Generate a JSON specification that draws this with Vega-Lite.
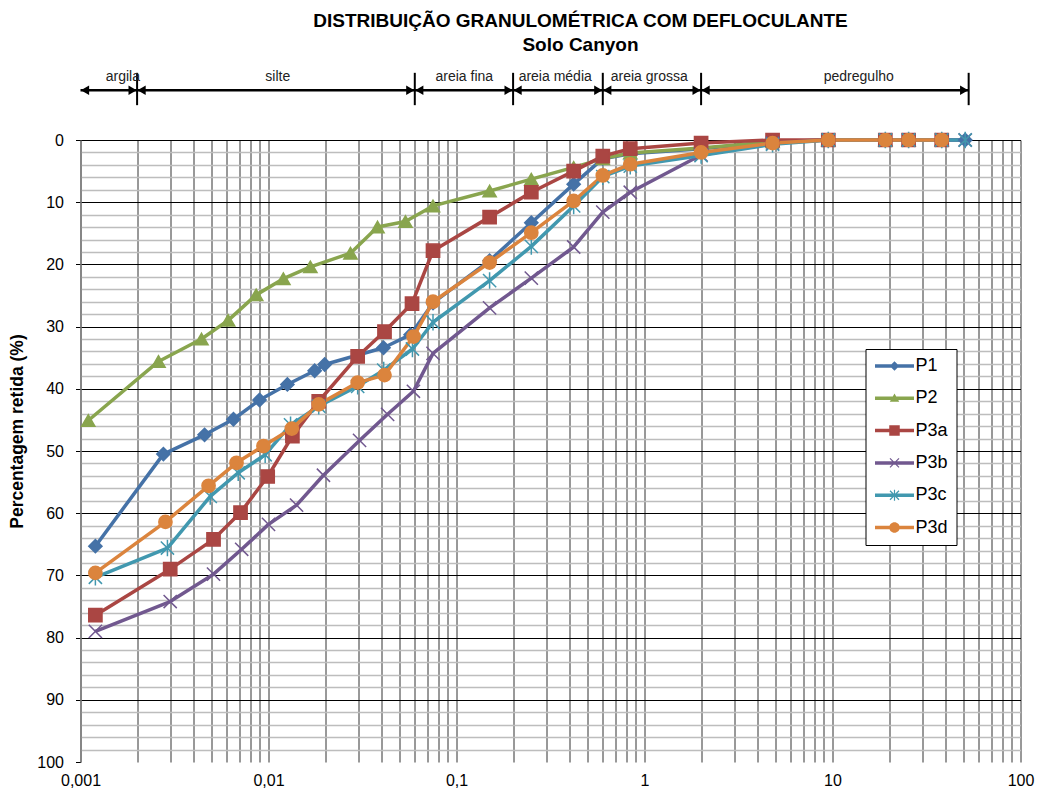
{
  "$schema": "https://vega.github.io/schema/vega-lite/v6.json",
  "width": 940,
  "height": 622,
  "autosize": {"type": "none"},
  "padding": {"left": 80.5, "top": 140, "right": 20.5, "bottom": 34},
  "background": "#ffffff",
  "config": {
    "font": "Liberation Sans",
    "view": {"stroke": null}
  },
  "title": {
    "text": "DISTRIBUIÇÃO GRANULOMÉTRICA COM DEFLOCULANTE",
    "subtitle": "Solo Canyon",
    "anchor": "middle",
    "frame": "group",
    "dx": 30,
    "offset": 15,
    "fontSize": 19,
    "fontWeight": "bold",
    "color": "#000000",
    "subtitleFontSize": 19,
    "subtitleFontWeight": "bold",
    "subtitleColor": "#000000",
    "subtitlePadding": 5
  },
  "datasets": {
    "series": [
      {"serie": "P1", "diametro": 0.0012, "retida": 65.3},
      {"serie": "P1", "diametro": 0.00276, "retida": 50.5},
      {"serie": "P1", "diametro": 0.00457, "retida": 47.4},
      {"serie": "P1", "diametro": 0.00651, "retida": 44.9},
      {"serie": "P1", "diametro": 0.00896, "retida": 41.8},
      {"serie": "P1", "diametro": 0.0126, "retida": 39.3},
      {"serie": "P1", "diametro": 0.0176, "retida": 37.1},
      {"serie": "P1", "diametro": 0.0199, "retida": 36.1},
      {"serie": "P1", "diametro": 0.0409, "retida": 33.4},
      {"serie": "P1", "diametro": 0.057, "retida": 31.3},
      {"serie": "P1", "diametro": 0.075, "retida": 26.2},
      {"serie": "P1", "diametro": 0.15, "retida": 19.4},
      {"serie": "P1", "diametro": 0.25, "retida": 13.3},
      {"serie": "P1", "diametro": 0.42, "retida": 7.1},
      {"serie": "P1", "diametro": 0.6, "retida": 3.0},
      {"serie": "P1", "diametro": 0.84, "retida": 2.2},
      {"serie": "P1", "diametro": 2.0, "retida": 1.4},
      {"serie": "P1", "diametro": 4.8, "retida": 0.3},
      {"serie": "P1", "diametro": 9.5, "retida": 0},
      {"serie": "P1", "diametro": 19.1, "retida": 0},
      {"serie": "P1", "diametro": 25.4, "retida": 0},
      {"serie": "P1", "diametro": 38.1, "retida": 0},
      {"serie": "P1", "diametro": 50.8, "retida": 0},

      {"serie": "P2", "diametro": 0.0011, "retida": 45.1},
      {"serie": "P2", "diametro": 0.0026, "retida": 35.6},
      {"serie": "P2", "diametro": 0.0044, "retida": 32.0},
      {"serie": "P2", "diametro": 0.0061, "retida": 29.0},
      {"serie": "P2", "diametro": 0.0086, "retida": 24.9},
      {"serie": "P2", "diametro": 0.012, "retida": 22.3},
      {"serie": "P2", "diametro": 0.0167, "retida": 20.4},
      {"serie": "P2", "diametro": 0.0273, "retida": 18.2},
      {"serie": "P2", "diametro": 0.038, "retida": 14.0},
      {"serie": "P2", "diametro": 0.0535, "retida": 13.1},
      {"serie": "P2", "diametro": 0.075, "retida": 10.6},
      {"serie": "P2", "diametro": 0.15, "retida": 8.2},
      {"serie": "P2", "diametro": 0.25, "retida": 6.3},
      {"serie": "P2", "diametro": 0.42, "retida": 4.4},
      {"serie": "P2", "diametro": 0.6, "retida": 3.0},
      {"serie": "P2", "diametro": 0.84, "retida": 2.1},
      {"serie": "P2", "diametro": 2.0, "retida": 1.3},
      {"serie": "P2", "diametro": 4.8, "retida": 0.3},
      {"serie": "P2", "diametro": 9.5, "retida": 0},
      {"serie": "P2", "diametro": 19.1, "retida": 0},
      {"serie": "P2", "diametro": 25.4, "retida": 0},
      {"serie": "P2", "diametro": 38.1, "retida": 0},

      {"serie": "P3a", "diametro": 0.0012, "retida": 76.4},
      {"serie": "P3a", "diametro": 0.003, "retida": 69.0},
      {"serie": "P3a", "diametro": 0.0051, "retida": 64.2},
      {"serie": "P3a", "diametro": 0.0071, "retida": 59.9},
      {"serie": "P3a", "diametro": 0.0099, "retida": 54.1},
      {"serie": "P3a", "diametro": 0.0134, "retida": 47.6},
      {"serie": "P3a", "diametro": 0.0185, "retida": 42.0},
      {"serie": "P3a", "diametro": 0.0298, "retida": 34.8},
      {"serie": "P3a", "diametro": 0.0414, "retida": 30.8},
      {"serie": "P3a", "diametro": 0.058, "retida": 26.3},
      {"serie": "P3a", "diametro": 0.075, "retida": 17.8},
      {"serie": "P3a", "diametro": 0.15, "retida": 12.4},
      {"serie": "P3a", "diametro": 0.25, "retida": 8.4},
      {"serie": "P3a", "diametro": 0.42, "retida": 5.0},
      {"serie": "P3a", "diametro": 0.6, "retida": 2.6},
      {"serie": "P3a", "diametro": 0.84, "retida": 1.4},
      {"serie": "P3a", "diametro": 2.0, "retida": 0.5},
      {"serie": "P3a", "diametro": 4.8, "retida": 0},
      {"serie": "P3a", "diametro": 9.5, "retida": 0},
      {"serie": "P3a", "diametro": 19.1, "retida": 0},
      {"serie": "P3a", "diametro": 25.4, "retida": 0},
      {"serie": "P3a", "diametro": 38.1, "retida": 0},

      {"serie": "P3b", "diametro": 0.0012, "retida": 79.0},
      {"serie": "P3b", "diametro": 0.003, "retida": 74.2},
      {"serie": "P3b", "diametro": 0.0051, "retida": 69.8},
      {"serie": "P3b", "diametro": 0.0072, "retida": 65.8},
      {"serie": "P3b", "diametro": 0.01, "retida": 61.8},
      {"serie": "P3b", "diametro": 0.0141, "retida": 58.7},
      {"serie": "P3b", "diametro": 0.0196, "retida": 53.9},
      {"serie": "P3b", "diametro": 0.0305, "retida": 48.3},
      {"serie": "P3b", "diametro": 0.043, "retida": 44.1},
      {"serie": "P3b", "diametro": 0.059, "retida": 40.4},
      {"serie": "P3b", "diametro": 0.075, "retida": 34.3},
      {"serie": "P3b", "diametro": 0.15, "retida": 27.0},
      {"serie": "P3b", "diametro": 0.25, "retida": 22.2},
      {"serie": "P3b", "diametro": 0.42, "retida": 17.2},
      {"serie": "P3b", "diametro": 0.6, "retida": 11.6},
      {"serie": "P3b", "diametro": 0.84, "retida": 8.4},
      {"serie": "P3b", "diametro": 2.0, "retida": 2.4},
      {"serie": "P3b", "diametro": 4.8, "retida": 0.5},
      {"serie": "P3b", "diametro": 9.5, "retida": 0},
      {"serie": "P3b", "diametro": 19.1, "retida": 0},
      {"serie": "P3b", "diametro": 25.4, "retida": 0},
      {"serie": "P3b", "diametro": 38.1, "retida": 0},
      {"serie": "P3b", "diametro": 50.8, "retida": 0},

      {"serie": "P3c", "diametro": 0.0012, "retida": 70.3},
      {"serie": "P3c", "diametro": 0.0029, "retida": 65.6},
      {"serie": "P3c", "diametro": 0.0049, "retida": 57.3},
      {"serie": "P3c", "diametro": 0.0069, "retida": 53.5},
      {"serie": "P3c", "diametro": 0.0096, "retida": 50.6},
      {"serie": "P3c", "diametro": 0.0131, "retida": 45.8},
      {"serie": "P3c", "diametro": 0.0185, "retida": 42.8},
      {"serie": "P3c", "diametro": 0.0298, "retida": 39.6},
      {"serie": "P3c", "diametro": 0.041, "retida": 37.0},
      {"serie": "P3c", "diametro": 0.0583, "retida": 33.6},
      {"serie": "P3c", "diametro": 0.075, "retida": 29.3},
      {"serie": "P3c", "diametro": 0.15, "retida": 22.6},
      {"serie": "P3c", "diametro": 0.25, "retida": 17.1},
      {"serie": "P3c", "diametro": 0.42, "retida": 10.6},
      {"serie": "P3c", "diametro": 0.6, "retida": 5.9},
      {"serie": "P3c", "diametro": 0.84, "retida": 4.2},
      {"serie": "P3c", "diametro": 2.0, "retida": 2.5},
      {"serie": "P3c", "diametro": 4.8, "retida": 0.7},
      {"serie": "P3c", "diametro": 9.5, "retida": 0},
      {"serie": "P3c", "diametro": 19.1, "retida": 0},
      {"serie": "P3c", "diametro": 25.4, "retida": 0},
      {"serie": "P3c", "diametro": 38.1, "retida": 0},
      {"serie": "P3c", "diametro": 50.8, "retida": 0},

      {"serie": "P3d", "diametro": 0.0012, "retida": 69.6},
      {"serie": "P3d", "diametro": 0.00283, "retida": 61.4},
      {"serie": "P3d", "diametro": 0.0048, "retida": 55.6},
      {"serie": "P3d", "diametro": 0.00676, "retida": 51.9},
      {"serie": "P3d", "diametro": 0.0094, "retida": 49.2},
      {"serie": "P3d", "diametro": 0.0133, "retida": 46.4},
      {"serie": "P3d", "diametro": 0.0185, "retida": 42.5},
      {"serie": "P3d", "diametro": 0.0298, "retida": 39.0},
      {"serie": "P3d", "diametro": 0.0414, "retida": 37.8},
      {"serie": "P3d", "diametro": 0.0591, "retida": 31.6},
      {"serie": "P3d", "diametro": 0.075, "retida": 26.0},
      {"serie": "P3d", "diametro": 0.15, "retida": 19.7},
      {"serie": "P3d", "diametro": 0.25, "retida": 14.9},
      {"serie": "P3d", "diametro": 0.42, "retida": 9.8},
      {"serie": "P3d", "diametro": 0.6, "retida": 5.7},
      {"serie": "P3d", "diametro": 0.84, "retida": 3.9},
      {"serie": "P3d", "diametro": 2.0, "retida": 2.0},
      {"serie": "P3d", "diametro": 4.8, "retida": 0.5},
      {"serie": "P3d", "diametro": 9.5, "retida": 0},
      {"serie": "P3d", "diametro": 19.1, "retida": 0},
      {"serie": "P3d", "diametro": 25.4, "retida": 0},
      {"serie": "P3d", "diametro": 38.1, "retida": 0}
    ],
    "faixas": [
      {"zona": "argila", "x0": 0.001, "x1": 0.002, "xt": 0.00168},
      {"zona": "silte", "x0": 0.002, "x1": 0.06, "xt": 0.0112},
      {"zona": "areia fina", "x0": 0.06, "x1": 0.2, "xt": 0.11},
      {"zona": "areia média", "x0": 0.2, "x1": 0.6, "xt": 0.335},
      {"zona": "areia grossa", "x0": 0.6, "x1": 2, "xt": 1.06},
      {"zona": "pedregulho", "x0": 2, "x1": 53, "xt": 13.8}
    ]
  },
  "layer": [
    {
      "data": {"name": "series"},
      "mark": {"type": "point", "filled": true, "size": 1, "opacity": 0, "strokeWidth": 0},
      "encoding": {
        "x": {"field": "diametro", "type": "quantitative"},
        "y": {"field": "retida", "type": "quantitative"},
        "color": {
          "field": "serie",
          "type": "nominal",
          "scale": {
            "domain": ["P1", "P2", "P3a", "P3b", "P3c", "P3d"],
            "range": ["#4572A7", "#89A54E", "#AA4643", "#71588F", "#4198AF", "#DB843D"]
          },
          "legend": {
            "title": null,
            "orient": "none",
            "legendX": 785,
            "legendY": 209,
            "direction": "vertical",
            "padding": 8,
            "strokeColor": "#000000",
            "fillColor": "#ffffff",
            "cornerRadius": 0,
            "labelFontSize": 18,
            "labelColor": "#000000",
            "symbolSize": 100,
            "symbolStrokeWidth": 0,
            "symbolOpacity": 1,
            "symbolOffset": 12,
            "labelOffset": 12,
            "rowPadding": 14.3
          }
        },
        "shape": {
          "field": "serie",
          "type": "nominal",
          "scale": {
            "domain": ["P1", "P2", "P3a", "P3b", "P3c", "P3d"],
            "range": [
              "M-3.9,-0.35H3.9V0.35H-3.9ZM0,-0.95L0.95,0L0,0.95L-0.95,0Z",
              "M-3.9,-0.35H3.9V0.35H-3.9ZM0,-0.95L0.95,0.7L-0.95,0.7Z",
              "M-3.9,-0.35H3.9V0.35H-3.9ZM-1.05,-1.05H1.05V1.05H-1.05Z",
              "M-3.9,-0.35H3.9V0.35H-3.9ZM-0.815,-0.985L0.985,0.815L0.815,0.985L-0.985,-0.815ZM-0.985,0.815L0.815,-0.985L0.985,-0.815L-0.815,0.985Z",
              "M-3.9,-0.35H3.9V0.35H-3.9ZM-0.815,-0.985L0.985,0.815L0.815,0.985L-0.985,-0.815ZM-0.985,0.815L0.815,-0.985L0.985,-0.815L-0.815,0.985ZM-0.12,-1.1H0.12V1.1H-0.12Z",
              "M-3.9,-0.35H3.9V0.35H-3.9ZM-1.05,0A1.05,1.05 0 1,1 1.05,0A1.05,1.05 0 1,1 -1.05,0Z"
            ]
          },
          "legend": {
            "title": null,
            "orient": "none",
            "legendX": 785,
            "legendY": 209,
            "direction": "vertical",
            "padding": 8,
            "strokeColor": "#000000",
            "fillColor": "#ffffff",
            "cornerRadius": 0,
            "labelFontSize": 18,
            "labelColor": "#000000",
            "symbolSize": 100,
            "symbolStrokeWidth": 0,
            "symbolOpacity": 1,
            "symbolOffset": 12,
            "labelOffset": 12,
            "rowPadding": 14.3
          }
        }
      }
    },
    {
      "data": {"name": "series"},
      "mark": {"type": "line", "strokeWidth": 3.5, "strokeJoin": "round"},
      "encoding": {
        "x": {
          "field": "diametro",
          "type": "quantitative",
          "scale": {"type": "log", "domain": [0.001, 100], "nice": false},
          "axis": {
            "title": null,
            "orient": "bottom",
            "values": [0.001, 0.002, 0.003, 0.004, 0.005, 0.006, 0.007, 0.008, 0.009,
                       0.01, 0.02, 0.03, 0.04, 0.05, 0.06, 0.07, 0.08, 0.09,
                       0.1, 0.2, 0.3, 0.4, 0.5, 0.6, 0.7, 0.8, 0.9,
                       1, 2, 3, 4, 5, 6, 7, 8, 9,
                       10, 20, 30, 40, 50, 60, 70, 80, 90, 100],
            "tickCount": 200,
            "labelExpr": "datum.value === 0.001 ? '0,001' : datum.value === 0.01 ? '0,01' : datum.value === 0.1 ? '0,1' : datum.value === 1 ? '1' : datum.value === 10 ? '10' : datum.value === 100 ? '100' : ''",
            "labelOverlap": false,
            "labelFlush": false,
            "labelFontSize": 16,
            "labelColor": "#000000",
            "labelPadding": 10,
            "ticks": false,
            "domain": false,
            "grid": true,
            "gridColor": "#333333",
            "gridWidth": 1
          }
        },
        "y": {
          "field": "retida",
          "type": "quantitative",
          "scale": {"domain": [0, 100], "reverse": true, "nice": false, "zero": false},
          "axis": {
            "title": "Percentagem retida (%)",
            "titleFontSize": 17.5,
            "titleFontWeight": "bold",
            "titleColor": "#000000",
            "titleAngle": -90,
            "titleAlign": "center",
            "titleBaseline": "middle",
            "titleX": -63,
            "titleY": 291,
            "values": [0, 2, 4, 6, 8, 10, 12, 14, 16, 18, 20, 22, 24, 26, 28, 30, 32, 34, 36, 38, 40,
                       42, 44, 46, 48, 50, 52, 54, 56, 58, 60, 62, 64, 66, 68, 70, 72, 74, 76, 78, 80,
                       82, 84, 86, 88, 90, 92, 94, 96, 98, 100],
            "tickCount": 200,
            "format": "d",
            "labelExpr": "datum.value % 10 === 0 ? datum.label : ''",
            "labelOverlap": false,
            "labelFontSize": 16,
            "labelColor": "#000000",
            "labelPadding": 12,
            "tickSize": 5,
            "tickColor": "#000000",
            "tickOpacity": {"condition": {"test": "datum.value % 10 === 0", "value": 1}, "value": 0},
            "domain": true,
            "domainColor": "#808080",
            "domainWidth": 1.5,
            "grid": true,
            "gridColor": {"condition": {"test": "datum.value % 10 === 0", "value": "#000000"}, "value": "#bdbdbd"},
            "gridWidth": {"condition": {"test": "datum.value % 10 === 0", "value": 1}, "value": 1.7},
            "gridOpacity": {"condition": {"test": "datum.value === 100", "value": 0}, "value": 1}
          }
        },
        "stroke": {
          "field": "serie",
          "type": "nominal",
          "scale": {
            "domain": ["P3d", "P3c", "P3b", "P3a", "P2", "P1"],
            "range": ["#DB843D", "#4198AF", "#71588F", "#AA4643", "#89A54E", "#4572A7"]
          },
          "legend": null
        }
      }
    },
    {
      "data": {"name": "series"},
      "mark": {"type": "point", "filled": true, "size": 175, "strokeWidth": 1.5, "opacity": 1},
      "encoding": {
        "x": {"field": "diametro", "type": "quantitative"},
        "y": {"field": "retida", "type": "quantitative"},
        "fill": {
          "field": "serie",
          "type": "nominal",
          "scale": {
            "domain": ["P3d", "P3c", "P3b", "P3a", "P2", "P1"],
            "range": ["#DB843D", "#4198AF", "#71588F", "#AA4643", "#89A54E", "#4572A7"]
          },
          "legend": null
        },
        "stroke": {"field": "serie", "type": "nominal", "legend": null},
        "shape": {
          "condition": [
            {"test": "datum.serie === 'P1'", "value": "diamond"},
            {"test": "datum.serie === 'P2'", "value": "triangle-up"},
            {"test": "datum.serie === 'P3a'", "value": "square"},
            {"test": "datum.serie === 'P3b'", "value": "M-1,-1L1,1M-1,1L1,-1"},
            {"test": "datum.serie === 'P3c'", "value": "M-1,-1L1,1M-1,1L1,-1M0,-1.25L0,1.25"}
          ],
          "value": "circle"
        }
      }
    },
    {
      "data": {"name": "faixas"},
      "mark": {"type": "rule", "color": "#000000", "strokeWidth": 2.5},
      "encoding": {
        "x": {"field": "x0", "type": "quantitative"},
        "x2": {"field": "x1"},
        "y": {"datum": -8, "type": "quantitative"}
      }
    },
    {
      "data": {"name": "faixas"},
      "mark": {"type": "point", "shape": "triangle-left", "filled": true, "color": "#000000", "size": 90, "xOffset": 4.5, "opacity": 1},
      "encoding": {
        "x": {"field": "x0", "type": "quantitative"},
        "y": {"datum": -8, "type": "quantitative"}
      }
    },
    {
      "data": {"name": "faixas"},
      "mark": {"type": "point", "shape": "triangle-right", "filled": true, "color": "#000000", "size": 90, "xOffset": -4.5, "opacity": 1},
      "encoding": {
        "x": {"field": "x1", "type": "quantitative"},
        "y": {"datum": -8, "type": "quantitative"}
      }
    },
    {
      "data": {"name": "faixas"},
      "mark": {"type": "rule", "color": "#000000", "strokeWidth": 2},
      "encoding": {
        "x": {"field": "x1", "type": "quantitative"},
        "y": {"datum": -10.8, "type": "quantitative"},
        "y2": {"datum": -5.6}
      }
    },
    {
      "data": {"name": "faixas"},
      "mark": {"type": "text", "fontSize": 14, "color": "#222222", "baseline": "middle", "align": "center"},
      "encoding": {
        "x": {"field": "xt", "type": "quantitative"},
        "y": {"datum": -10.2, "type": "quantitative"},
        "text": {"field": "zona"}
      }
    }
  ]
}
